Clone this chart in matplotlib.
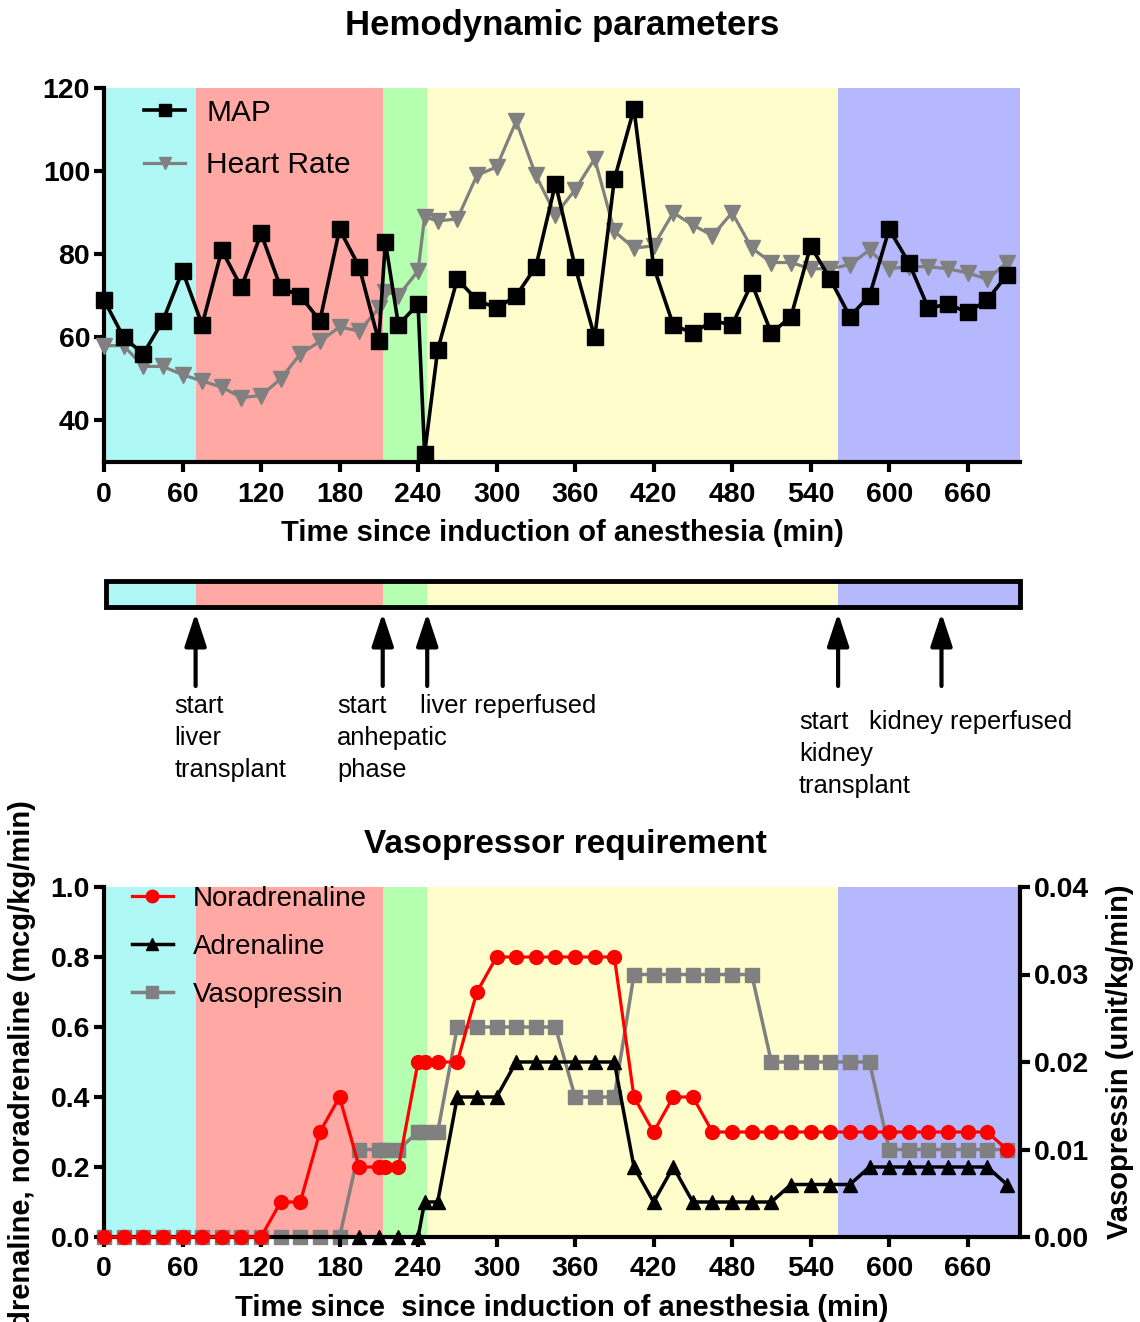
import numpy as np
import matplotlib
matplotlib.use('Agg')
import matplotlib.pyplot as plt
from matplotlib.patches import Rectangle

plt.rcParams['font.family'] = ['Liberation Sans', 'DejaVu Sans']

# =============================================================================
# DATA
# =============================================================================

# surgical phases (min): induction, liver transplant, anhepatic, reperfused liver, kidney
phase_edges = [0, 70, 213, 247, 561, 700]
phase_colors = ['#B0F8F5', '#FFA8A4', '#B4FFB0', '#FFFDCC', '#B6B8FD']
kidney_reperfused = 640

event_times = [70, 213, 247, 561, kidney_reperfused]
event_labels = [['start', 'liver', 'transplant'], ['start', 'anhepatic', 'phase'],
                ['liver reperfused'], ['start', 'kidney', 'transplant'],
                ['kidney reperfused']]

# hemodynamics
t_hemo = [0, 15, 30, 45, 60, 75, 90, 105, 120, 135, 150, 165, 180, 195, 210, 215,
          225, 240, 245, 255, 270, 285, 300, 315, 330, 345, 360, 375, 390, 405, 420,
          435, 450, 465, 480, 495, 510, 525, 540, 555, 570, 585, 600, 615, 630, 645,
          660, 675, 690]
map_vals = [69, 60, 56, 64, 76, 63, 81, 72, 85, 72, 70, 64, 86, 77, 59, 83,
            63, 68, 32, 57, 74, 69, 67, 70, 77, 97, 77, 60, 98, 115, 77,
            63, 61, 64, 63, 73, 61, 65, 82, 74, 65, 70, 86, 78, 67, 68,
            66, 69, 75]
hr_vals = [58, 58, 53, 53, 51, 49.5, 48, 45.5, 46, 50, 56, 59, 62.5, 61.5, 67, 71,
           70, 76, 89, 88, 88.5, 99, 101, 112, 99, 89.5, 95.5, 103, 85.5, 81.5, 82,
           90, 87, 84.5, 90, 81.5, 78, 78, 76.5, 76.5, 77.5, 81, 76.5, 77, 77, 76.5,
           75.5, 74, 78]

# vasopressors
t_vaso = t_hemo
noradrenaline = [0, 0, 0, 0, 0, 0, 0, 0, 0, 0.1, 0.1, 0.3, 0.4, 0.2, 0.2, 0.2,
                 0.2, 0.5, 0.5, 0.5, 0.5, 0.7, 0.8, 0.8, 0.8, 0.8, 0.8, 0.8, 0.8, 0.4, 0.3,
                 0.4, 0.4, 0.3, 0.3, 0.3, 0.3, 0.3, 0.3, 0.3, 0.3, 0.3, 0.3, 0.3, 0.3, 0.3,
                 0.3, 0.3, 0.25]
t_adren = [195, 210, 225, 240, 245, 255, 270, 285, 300, 315, 330, 345, 360, 375, 390,
           405, 420, 435, 450, 465, 480, 495, 510, 525, 540, 555, 570, 585, 600, 615,
           630, 645, 660, 675, 690]
adrenaline = [0, 0, 0, 0, 0.1, 0.1, 0.4, 0.4, 0.4, 0.5, 0.5, 0.5, 0.5, 0.5, 0.5,
              0.2, 0.1, 0.2, 0.1, 0.1, 0.1, 0.1, 0.1, 0.15, 0.15, 0.15, 0.15, 0.2, 0.2, 0.2,
              0.2, 0.2, 0.2, 0.2, 0.15]
vasopressin = [0, 0, 0, 0, 0, 0, 0, 0, 0, 0, 0, 0, 0, 0.01, 0.01, 0.01,
               0.01, 0.012, 0.012, 0.012, 0.024, 0.024, 0.024, 0.024, 0.024, 0.024, 0.016, 0.016, 0.016, 0.03, 0.03,
               0.03, 0.03, 0.03, 0.03, 0.03, 0.02, 0.02, 0.02, 0.02, 0.02, 0.02, 0.01, 0.01, 0.01, 0.01,
               0.01, 0.01, 0.01]

x_ticks = np.arange(0, 661, 60)

W, H = 1140, 1322
LBL = 21          # axis labels
TCK = 20.5        # tick labels


def style_axis(ax, right=False):
    for s in ['top', 'right'] if not right else ['top', 'left']:
        ax.spines[s].set_visible(False)
    for s in ax.spines.values():
        s.set_linewidth(3)
    ax.tick_params(width=3, length=7, labelsize=TCK, pad=3)
    for lab in ax.get_xticklabels() + ax.get_yticklabels():
        lab.set_fontweight('bold')


def shade_phases(ax):
    for i, c in enumerate(phase_colors):
        ax.axvspan(phase_edges[i], phase_edges[i + 1], color=c, lw=0, zorder=0)


fig = plt.figure(figsize=(W / 100, H / 100), dpi=100)

# =============================================================================
# 1. HEMODYNAMIC PARAMETERS
# =============================================================================
ax1 = fig.add_axes([104 / W, 1 - 462 / H, 916 / W, 374 / H])
shade_phases(ax1)
ax1.plot(t_hemo, hr_vals, color='#808080', lw=2.3, marker='v', ms=11,
         label='Heart Rate', clip_on=False, zorder=3)
ax1.plot(t_hemo, map_vals, color='black', lw=2.6, marker='s', ms=11,
         label='MAP', clip_on=False, zorder=4)
ax1.set_xlim(0, 700)
ax1.set_ylim(30, 120)
ax1.set_xticks(x_ticks)
ax1.set_yticks([40, 60, 80, 100, 120])
style_axis(ax1)
ax1.tick_params(axis='x', pad=7.5)
ax1.set_xlabel('Time since induction of anesthesia (min)', fontsize=LBL,
               fontweight='bold', labelpad=8)
h, l = ax1.get_legend_handles_labels()
ax1.legend(h[::-1], l[::-1], loc='upper left', bbox_to_anchor=(0.040, 0.979),
           frameon=False, fontsize=21.5, handlelength=1.4, handletextpad=0.7,
           labelspacing=0.82, borderpad=0.1, borderaxespad=0, markerscale=0.85)
fig.text(0.493, 1 - 25 / H, 'Hemodynamic parameters', fontsize=25,
         fontweight='bold', ha='center', va='center')

# =============================================================================
# 2. PHASE BAR WITH EVENTS
# =============================================================================
axm = fig.add_axes([104 / W, 1 - 810 / H, 916 / W, 240 / H])
axm.set_xlim(0, 700)
axm.set_ylim(810, 570)
axm.axis('off')
for i, c in enumerate(phase_colors):
    axm.add_patch(Rectangle((max(phase_edges[i], 1.5), 581),
                            phase_edges[i + 1] - max(phase_edges[i], 1.5), 26,
                            facecolor=c, edgecolor='none'))
axm.add_patch(Rectangle((1.5, 581), 698.5, 26, facecolor='none',
                        edgecolor='black', lw=3.5, clip_on=False))
for t in event_times:
    axm.annotate('', xy=(t, 613), xytext=(t, 686),
                 arrowprops=dict(arrowstyle='-|>,head_length=1.0,head_width=0.33',
                                 lw=3, color='black', shrinkA=0, shrinkB=0,
                                 mutation_scale=20))
label_pos = [(54, 706), (178, 706), (241.5, 706), (531, 722), (584.5, 722)]
for (x, y), lines in zip(label_pos, event_labels):
    for k, txt in enumerate(lines):
        axm.text(x, y + 32 * k, txt, fontsize=18.4, ha='left', va='center')

# =============================================================================
# 3. VASOPRESSOR REQUIREMENT
# =============================================================================
ax2 = fig.add_axes([104 / W, 1 - 1237 / H, 916 / W, 350 / H])
ax3 = ax2.twinx()
ax2.set_zorder(ax3.get_zorder() + 1)
ax2.patch.set_visible(False)
shade_phases(ax3)

ax3.plot(t_vaso, vasopressin, color='#808080', lw=2.5, marker='s', ms=10,
         label='Vasopressin', clip_on=False, zorder=3)
ax2.plot(t_adren, adrenaline, color='black', lw=2.5, marker='^', ms=10,
         label='Adrenaline', clip_on=False, zorder=3)
ax2.plot(t_vaso, noradrenaline, color='red', lw=2.3, marker='o', ms=10,
         label='Noradrenaline', clip_on=False, zorder=4)

ax2.set_xlim(0, 700)
ax2.set_ylim(0, 1.0)
ax3.set_ylim(0, 0.04)
ax2.set_xticks(x_ticks)
ax2.set_yticks(np.arange(0, 1.01, 0.2))
ax2.set_yticklabels([f'{v:.1f}' for v in np.arange(0, 1.01, 0.2)])
ax3.set_yticks(np.arange(0, 0.041, 0.01))
ax3.set_yticklabels([f'{v:.2f}' for v in np.arange(0, 0.041, 0.01)])
style_axis(ax2)
style_axis(ax3, right=True)
ax2.tick_params(axis='x', pad=6.5)
ax2.set_xlabel('Time since  since induction of anesthesia (min)', fontsize=LBL,
               fontweight='bold', labelpad=9)
ax3.spines['bottom'].set_visible(False)
ax2.spines['right'].set_visible(False)

h2, l2 = ax2.get_legend_handles_labels()
h3, l3 = ax3.get_legend_handles_labels()
ax2.legend([h2[1], h2[0], h3[0]], [l2[1], l2[0], l3[0]], loc='upper left',
           bbox_to_anchor=(0.027, 1.012), frameon=False, fontsize=20,
           handlelength=1.5, handletextpad=0.7, labelspacing=0.80,
           borderpad=0.1, borderaxespad=0, markerscale=0.9)

fig.text(0.496, 1 - 844 / H, 'Vasopressor requirement', fontsize=24,
         fontweight='bold', ha='center', va='center')
fig.text(22 / W, 1 - 800 / H, 'Adrenaline, noradrenaline (mcg/kg/min)',
         fontsize=LBL, fontweight='bold', rotation=90, ha='center', va='top')
fig.text(1120 / W, 1 - 1062 / H, 'Vasopressin (unit/kg/min)', fontsize=LBL,
         fontweight='bold', rotation=90, ha='center', va='center')

fig.savefig('out.png', dpi=100)
